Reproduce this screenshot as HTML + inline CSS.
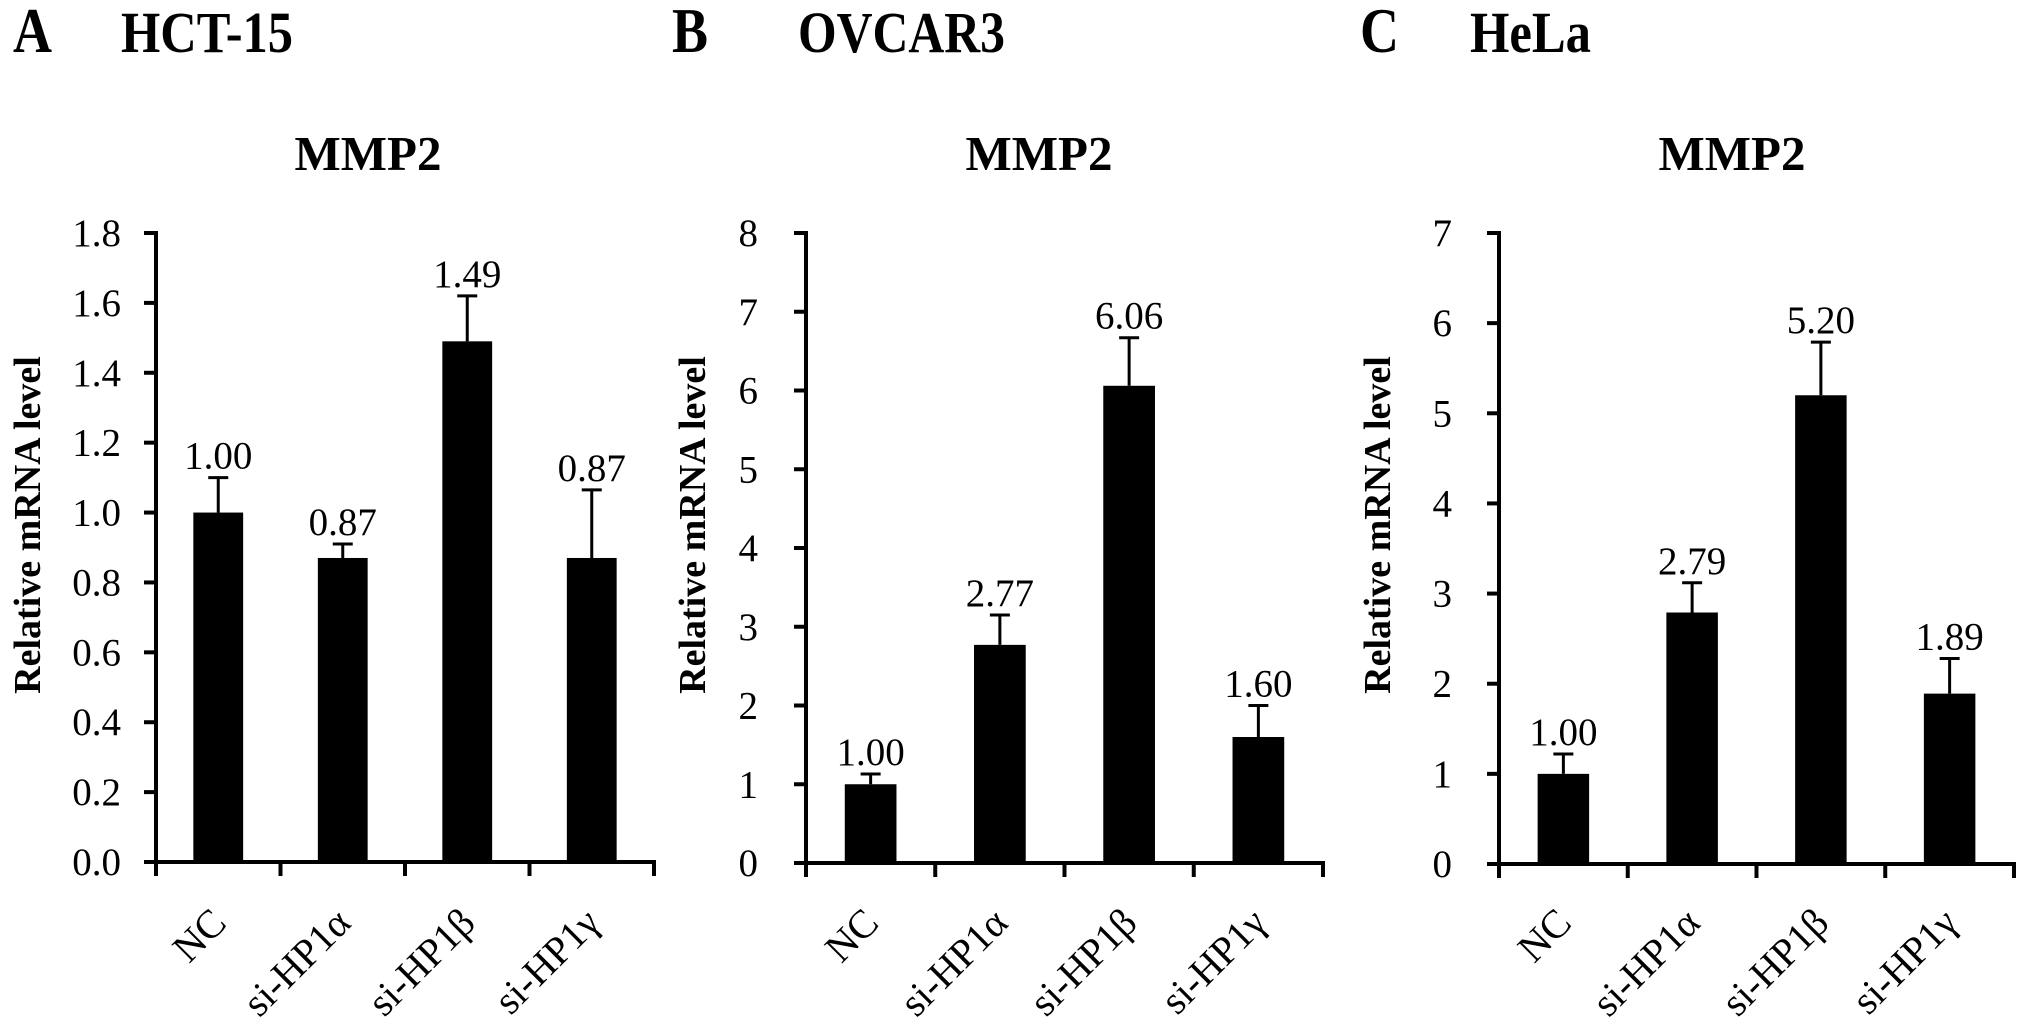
<!DOCTYPE html>
<html><head><meta charset="utf-8"><style>
html,body{margin:0;padding:0;background:#fff;}
svg{display:block;font-family:"Liberation Serif",serif;}
</style></head><body>
<svg id="fig" width="2031" height="1026" viewBox="0 0 2031 1026" xmlns="http://www.w3.org/2000/svg">
<g>
<text transform="translate(13,52) scale(1,1.17)" font-size="54" font-weight="bold">A</text>
<text transform="translate(121,52) scale(1,1.17)" font-size="50" font-weight="bold" textLength="172" lengthAdjust="spacingAndGlyphs">HCT-15</text>
</g>
<g>
<text transform="translate(672,52) scale(1,1.17)" font-size="54" font-weight="bold">B</text>
<text transform="translate(798,52) scale(1,1.17)" font-size="50" font-weight="bold" textLength="207" lengthAdjust="spacingAndGlyphs">OVCAR3</text>
</g>
<g>
<text transform="translate(1360,52) scale(1,1.17)" font-size="54" font-weight="bold">C</text>
<text transform="translate(1470,52) scale(1,1.17)" font-size="50" font-weight="bold" textLength="121" lengthAdjust="spacingAndGlyphs">HeLa</text>
</g>
</svg>
<script>
const categories = ["NC", "si-HP1\u03b1", "si-HP1\u03b2", "si-HP1\u03b3"];
const valuesA = [1.00, 0.87, 1.49, 0.87];
const errorsA = [0.10, 0.04, 0.13, 0.195];
const labelsA = ["1.00", "0.87", "1.49", "0.87"];
const ticksA = ["0.0","0.2","0.4","0.6","0.8","1.0","1.2","1.4","1.6","1.8"];
const valuesB = [1.00, 2.77, 6.06, 1.60];
const errorsB = [0.13, 0.38, 0.61, 0.40];
const labelsB = ["1.00", "2.77", "6.06", "1.60"];
const ticksB = ["0","1","2","3","4","5","6","7","8"];
const valuesC = [1.00, 2.79, 5.20, 1.89];
const errorsC = [0.22, 0.33, 0.59, 0.39];
const labelsC = ["1.00", "2.79", "5.20", "1.89"];
const ticksC = ["0","1","2","3","4","5","6","7"];

const NS = "http://www.w3.org/2000/svg";
const svg = document.getElementById("fig");
function mk(tag, attrs, parent) {
  const e = document.createElementNS(NS, tag);
  for (const k in attrs) e.setAttribute(k, attrs[k]);
  parent.appendChild(e);
  return e;
}
const panels = [
  {id:"a", vals:valuesA, errs:errorsA, labs:labelsA, ticks:ticksA, max:1.8, x0:156, x1:654, y0:862, y1:233, tickLabelRight:121, ytitleX:27, titleX:368},
  {id:"b", vals:valuesB, errs:errorsB, labs:labelsB, ticks:ticksB, max:8, x0:806, x1:1323, y0:863, y1:233, tickLabelRight:758, ytitleX:692, titleX:1039},
  {id:"c", vals:valuesC, errs:errorsC, labs:labelsC, ticks:ticksC, max:7, x0:1499, x1:2014, y0:864, y1:233, tickLabelRight:1452, ytitleX:1377, titleX:1732}
];
panels.forEach(p => {
  const g = mk("g", {}, svg);
  
  
  const yS = v => p.y0 - (v / p.max) * (p.y0 - p.y1);
  const bw = (p.x1 - p.x0) / categories.length;
  const xC = i => p.x0 + bw * (i + 0.5);
  const barW = bw * 0.4;
  const t = mk("text", {x:p.titleX, y:170, "text-anchor":"middle", "font-size":49, "font-weight":"bold"}, g);
  t.textContent = "MMP2";
  
  
  const yt = mk("text", {transform:"translate(" + (p.ytitleX + 13) + ",525) rotate(-90)", "text-anchor":"middle", "font-size":38, "font-weight":"bold"}, g);
  yt.textContent = "Relative mRNA level";
  
  
  const step = p.max / (p.ticks.length - 1);
  p.ticks.forEach((lab, i) => {
    const y = yS(i * step);
    const tk = mk("line", {x1:p.x0 - 12, x2:p.x0, y1:y, y2:y, stroke:"#000", "stroke-width":4}, g);
    
    
    const tl = mk("text", {x:p.tickLabelRight, y:y + 13, "text-anchor":"end", "font-size":39}, g);
    tl.textContent = lab;
    
    
  });
  p.vals.forEach((v, i) => {
    const cx = xC(i);
    const top = yS(v), et = yS(v + p.errs[i]);
    const el = mk("line", {x1:cx, x2:cx, y1:top, y2:et, stroke:"#000", "stroke-width":3}, g);
    
    
    const cap = mk("line", {x1:cx - 10, x2:cx + 10, y1:et, y2:et, stroke:"#000", "stroke-width":3}, g);
    
    
    const r = mk("rect", {x:cx - barW / 2, y:top, width:barW, height:p.y0 - top, fill:"#000"}, g);
    
    
    const vl = mk("text", {x:cx, y:et - 9, "text-anchor":"middle", "font-size":39}, g);
    vl.textContent = p.labs[i];
    
    
    const xl = mk("text", {transform:"translate(" + (cx + 10) + ",925) rotate(-45)", "text-anchor":"end", "font-size":40}, g);
    xl.textContent = categories[i];
    
    
  });
  const ya = mk("line", {x1:p.x0, x2:p.x0, y1:p.y1 - 2, y2:p.y0 + 2, stroke:"#000", "stroke-width":4}, g);
  
  
  const xa = mk("line", {x1:p.x0 - 12, x2:p.x1 + 2, y1:p.y0, y2:p.y0, stroke:"#000", "stroke-width":4}, g);
  
  
  for (let i = 0; i <= categories.length; i++) {
    const x = p.x0 + bw * i;
    const xt = mk("line", {x1:x, x2:x, y1:p.y0, y2:p.y0 + 14, stroke:"#000", "stroke-width":4}, g);
    
    
  }
});
</script>
</body></html>
